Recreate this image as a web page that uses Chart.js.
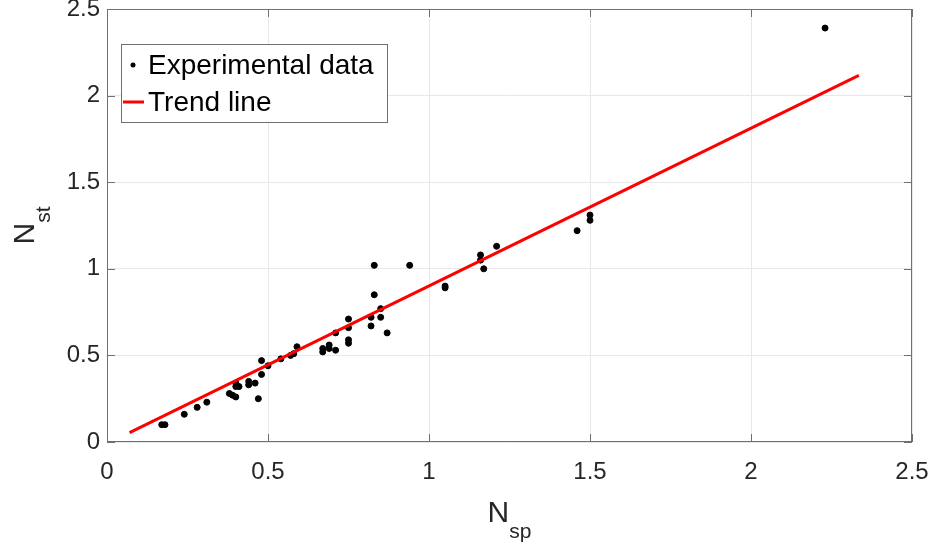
<!DOCTYPE html>
<html>
<head>
<meta charset="utf-8">
<script src="https://cdn.jsdelivr.net/npm/chart.js@4"></script>
<style>
  body { margin: 0; background: #fff; }
  #wrap { width: 935px; height: 550px; }
</style>
</head>
<body>
<div id="wrap"><canvas id="chart" width="935" height="550"></canvas></div>
<script>
// experimental points
const expX = [0.17, 0.18, 0.24, 0.28, 0.31, 0.38, 0.39, 0.40, 0.40, 0.41,
              0.40, 0.44, 0.44, 0.46, 0.47, 0.48, 0.48, 0.50, 0.54, 0.57,
              0.58, 0.59, 0.67, 0.67, 0.69, 0.69, 0.71, 0.71, 0.75, 0.75,
              0.75, 0.75, 0.82, 0.82, 0.83, 0.83, 0.85, 0.85, 0.87, 0.94,
              1.05, 1.05, 1.16, 1.16, 1.17, 1.21, 1.46, 1.50, 1.50, 2.23]
const expY = [0.10, 0.10, 0.16, 0.20, 0.23, 0.28, 0.27, 0.26, 0.32, 0.32,
              0.34, 0.35, 0.33, 0.34, 0.25, 0.39, 0.47, 0.44, 0.48, 0.50,
              0.51, 0.55, 0.54, 0.52, 0.56, 0.54, 0.53, 0.63, 0.71, 0.66,
              0.59, 0.57, 0.72, 0.67, 1.02, 0.85, 0.77, 0.72, 0.63, 1.02,
              0.90, 0.89, 1.08, 1.05, 1.00, 1.13, 1.22, 1.31, 1.28, 2.39]

// trend line end points
const trendX = [0.07, 2.335]
const trendY = [0.054, 2.117]

const axisTicks = [0, 0.5, 1, 1.5, 2, 2.5]

const FONT = '"Liberation Sans", Arial, sans-serif'
const AXIS_COLOR = '#707070'
const TEXT_COLOR = '#262626'

// box, inward ticks, axis titles and legend, MATLAB style
const decorations = {
    id: 'decorations',
    afterDraw(chart) {
        const ctx = chart.ctx
        const a = chart.chartArea
        const xs = chart.scales.x
        const ys = chart.scales.y
        ctx.save()

        ctx.strokeStyle = AXIS_COLOR
        ctx.lineWidth = 1
        ctx.strokeRect(a.left + 0.5, a.top + 0.5, a.right - a.left - 1, a.bottom - a.top - 1)

        ctx.beginPath()
        axisTicks.forEach(t => {
            const px = Math.round(xs.getPixelForValue(t)) + 0.5
            ctx.moveTo(px, a.bottom); ctx.lineTo(px, a.bottom - 8)
            ctx.moveTo(px, a.top); ctx.lineTo(px, a.top + 8)
            const py = Math.round(ys.getPixelForValue(t)) + 0.5
            ctx.moveTo(a.left, py); ctx.lineTo(a.left + 8, py)
            ctx.moveTo(a.right, py); ctx.lineTo(a.right - 8, py)
        })
        ctx.stroke()

        // axis titles with subscripts
        ctx.fillStyle = TEXT_COLOR
        ctx.textBaseline = 'alphabetic'
        ctx.textAlign = 'left'
        const big = '30px ' + FONT
        const small = '21px ' + FONT

        function subLabel(main, sub, cx, baseY) {
            ctx.font = big
            const w1 = ctx.measureText(main).width
            ctx.font = small
            const w2 = ctx.measureText(sub).width
            const x0 = cx - (w1 + w2) / 2
            ctx.font = big
            ctx.fillText(main, x0, baseY)
            ctx.font = small
            ctx.fillText(sub, x0 + w1, baseY + 16)
        }

        subLabel('N', 'sp', (a.left + a.right) / 2, 522)

        ctx.save()
        ctx.translate(34, (a.top + a.bottom) / 2)
        ctx.rotate(-Math.PI / 2)
        subLabel('N', 'st', 0, 0)
        ctx.restore()

        // legend
        const lx = 121, ly = 44, lw = 266, lh = 78
        ctx.fillStyle = '#fff'
        ctx.fillRect(lx, ly, lw, lh)
        ctx.strokeStyle = AXIS_COLOR
        ctx.strokeRect(lx + 0.5, ly + 0.5, lw, lh)

        const ds = chart.data.datasets
        ctx.font = '28px ' + FONT
        ctx.fillStyle = '#000'
        ctx.textBaseline = 'middle'

        ctx.beginPath()
        ctx.arc(133, 65, 2.5, 0, Math.PI * 2)
        ctx.fill()
        ctx.fillText(ds[0].label, 148, 66)

        ctx.strokeStyle = 'rgb(255,0,0)'
        ctx.lineWidth = 3
        ctx.beginPath()
        ctx.moveTo(123, 102); ctx.lineTo(144, 102)
        ctx.stroke()
        ctx.fillStyle = '#000'
        ctx.fillText(ds[1].label, 148, 103)

        ctx.restore()
    }
}

const scaleBase = {
    type: 'linear',
    min: 0,
    max: 2.5,
    grid: { color: '#e8e8e8', drawTicks: false },
    border: { display: false },
    ticks: {
        stepSize: 0.5,
        color: TEXT_COLOR,
        font: { family: FONT, size: 24 },
        callback: v => String(v)
    }
}

new Chart(document.getElementById('chart'), {
    type: 'scatter',
    data: {
        datasets: [
            {
                label: 'Experimental data',
                data: expX.map((x, i) => ({ x: x, y: expY[i] })),
                backgroundColor: '#000',
                borderColor: '#000',
                pointRadius: 3,
                pointHoverRadius: 3,
                order: 2
            },
            {
                label: 'Trend line',
                data: trendX.map((x, i) => ({ x: x, y: trendY[i] })),
                showLine: true,
                borderColor: 'rgb(255,0,0)',
                borderWidth: 3,
                pointRadius: 0,
                order: 1
            }
        ]
    },
    options: {
        responsive: false,
        animation: false,
        layout: { padding: { top: 9, right: 23, left: 0, bottom: 0 } },
        plugins: { legend: { display: false }, tooltip: { enabled: false } },
        scales: {
            x: Object.assign({}, scaleBase, {
                ticks: Object.assign({}, scaleBase.ticks, { padding: 16, maxRotation: 0 }),
                afterFit(scale) {
                    scale.height = 108
                    scale.paddingLeft = 0
                    scale.paddingRight = 0
                }
            }),
            y: Object.assign({}, scaleBase, {
                ticks: Object.assign({}, scaleBase.ticks, { padding: 7 }),
                afterFit(scale) {
                    scale.width = 107
                    scale.paddingTop = 0
                    scale.paddingBottom = 0
                }
            })
        }
    },
    plugins: [decorations]
})
</script>
</body>
</html>
